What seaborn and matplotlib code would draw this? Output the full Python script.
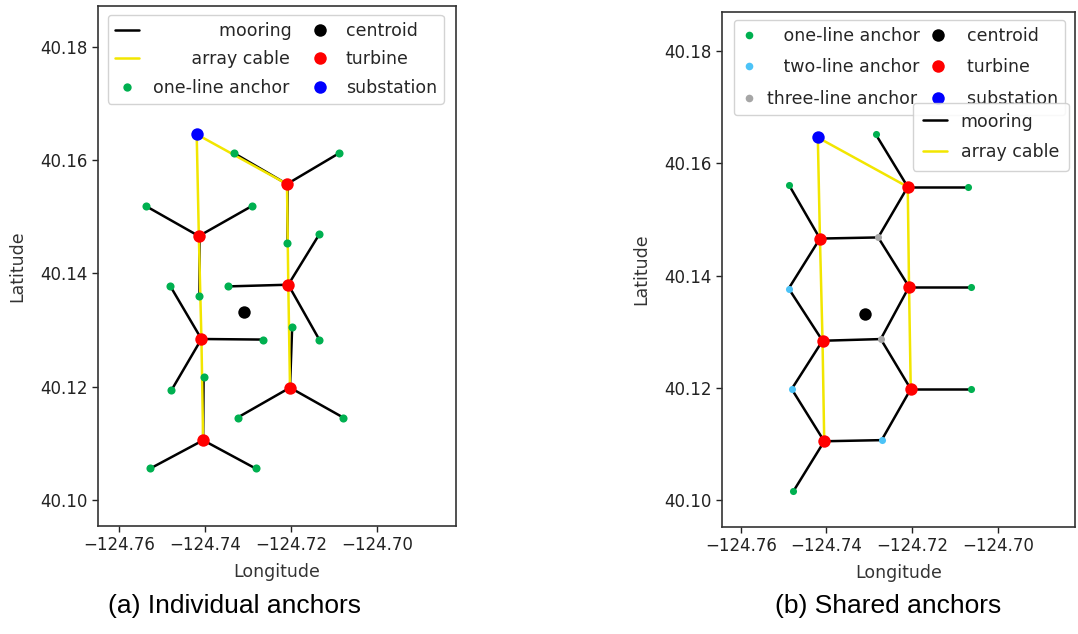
import numpy as np
import pandas as pd
import matplotlib
matplotlib.use("Agg")
import matplotlib.pyplot as plt
import seaborn as sns
from matplotlib.lines import Line2D

sns.set_style("ticks")
plt.rcParams['font.family'] = ['DejaVu Sans']

# ---------------- data ----------------
turbine_lon = [-124.7210, -124.7415, -124.7207, -124.7409, -124.7203, -124.7405]
turbine_lat = [40.1558, 40.1466, 40.1380, 40.1284, 40.1198, 40.1105]
substation_lon = [-124.7420]
substation_lat = [40.1646]
centroid_lon = [-124.7310]
centroid_lat = [40.1332]

# array cable routes (indices into turbines, -1 = substation)
cable_routes = [[-1, 1, 3, 5], [-1, 0, 2, 4]]

# (a) individual anchors: 3 per turbine
ind_anchor_lon = [-124.7334, -124.7088, -124.7210,
                  -124.7538, -124.7292, -124.7415,
                  -124.7348, -124.7135, -124.7135,
                  -124.7481, -124.7266, -124.7479,
                  -124.7198, -124.7325, -124.7079,
                  -124.7404, -124.7528, -124.7283]
ind_anchor_lat = [40.1613, 40.1613, 40.1453,
                  40.1519, 40.1519, 40.1360,
                  40.1377, 40.1469, 40.1283,
                  40.1377, 40.1283, 40.1193,
                  40.1305, 40.1145, 40.1145,
                  40.1216, 40.1055, 40.1055]
ind_anchor_turbine = [0, 0, 0, 1, 1, 1, 2, 2, 2, 3, 3, 3, 4, 4, 4, 5, 5, 5]

# (b) shared anchors
sh_anchor_lon = [-124.7285, -124.7487, -124.7069, -124.7062, -124.7062, -124.7477,
                 -124.7488, -124.7481, -124.7271,
                 -124.7279, -124.7273]
sh_anchor_lat = [40.1652, 40.1561, 40.1558, 40.1380, 40.1198, 40.1016,
                 40.1377, 40.1198, 40.1107,
                 40.1468, 40.1287]
sh_anchor_type = ["one-line"] * 6 + ["two-line"] * 3 + ["three-line"] * 2
# moorings: (turbine, anchor)
sh_moorings = [(0, 0), (0, 2), (0, 9),
               (1, 1), (1, 9), (1, 6),
               (2, 9), (2, 3), (2, 10),
               (3, 6), (3, 10), (3, 7),
               (4, 10), (4, 4), (4, 8),
               (5, 7), (5, 8), (5, 5)]

x_ticks = [-124.76, -124.74, -124.72, -124.70]
y_ticks = [40.10, 40.12, 40.14, 40.16, 40.18]

GREEN = "#00b050"
CYAN = "#4cc3f7"
GRAY = "#a6a6a6"
YELLOW = "#f2e600"

W, H = 1078, 634
fig = plt.figure(figsize=(W / 100, H / 100), dpi=100)


def axes_px(l, t, r, b):
    return fig.add_axes([l / W, 1 - b / H, (r - l) / W, (b - t) / H])


ax1 = axes_px(98, 6, 456, 526)
ax2 = axes_px(722, 12, 1075, 527)


def seg_frame(pairs):
    rows = []
    for k, ((x0, y0), (x1, y1)) in enumerate(pairs):
        rows.append((k, x0, y0))
        rows.append((k, x1, y1))
    return pd.DataFrame(rows, columns=["seg", "lon", "lat"])


def node(i):
    if i < 0:
        return substation_lon[0], substation_lat[0]
    return turbine_lon[i], turbine_lat[i]


cable_pairs = []
for route in cable_routes:
    for a, b in zip(route[:-1], route[1:]):
        cable_pairs.append((node(a), node(b)))
cable_df = seg_frame(cable_pairs)

ind_pairs = [(node(t), (ind_anchor_lon[k], ind_anchor_lat[k]))
             for k, t in enumerate(ind_anchor_turbine)]
ind_df = seg_frame(ind_pairs)

sh_pairs = [(node(t), (sh_anchor_lon[a], sh_anchor_lat[a])) for t, a in sh_moorings]
sh_df = seg_frame(sh_pairs)

TURB_S = 80
ANCH_S1 = 34
ANCH_S2 = 26
LW = 1.8


def draw_lines(ax, moor_df):
    sns.lineplot(data=moor_df, x="lon", y="lat", units="seg", estimator=None, sort=False,
                 color="black", linewidth=LW, ax=ax, legend=False)
    sns.lineplot(data=cable_df, x="lon", y="lat", units="seg", estimator=None, sort=False,
                 color=YELLOW, linewidth=LW, ax=ax, legend=False)


def draw_points(ax):
    sns.scatterplot(x=centroid_lon, y=centroid_lat, color="black", s=TURB_S, linewidth=0, ax=ax, zorder=5)
    sns.scatterplot(x=turbine_lon, y=turbine_lat, color="red", s=TURB_S, linewidth=0, ax=ax, zorder=5)
    sns.scatterplot(x=substation_lon, y=substation_lat, color="blue", s=TURB_S, linewidth=0, ax=ax, zorder=5)


# ---- panel (a) ----
draw_lines(ax1, ind_df)
sns.scatterplot(x=ind_anchor_lon, y=ind_anchor_lat, color=GREEN, s=ANCH_S1, linewidth=0, ax=ax1, zorder=4)
draw_points(ax1)

# ---- panel (b) ----
draw_lines(ax2, sh_df)
sh_colors = {"one-line": GREEN, "two-line": CYAN, "three-line": GRAY}
for typ, col in sh_colors.items():
    xs = [x for x, t in zip(sh_anchor_lon, sh_anchor_type) if t == typ]
    ys = [y for y, t in zip(sh_anchor_lat, sh_anchor_type) if t == typ]
    sns.scatterplot(x=xs, y=ys, color=col, s=ANCH_S2, linewidth=0, ax=ax2, zorder=4)
draw_points(ax2)

ax1.set_xlim(-124.76495, -124.68170)
ax1.set_ylim(40.09533, 40.18729)
ax2.set_xlim(-124.76437, -124.68195)
ax2.set_ylim(40.09523, 40.18695)

for ax in (ax1, ax2):
    ax.set_xticks(x_ticks)
    ax.set_yticks(y_ticks)
    ax.set_xticklabels([f"{v:.2f}".replace("-", "\u2212") for v in x_ticks])
    ax.set_yticklabels([f"{v:.2f}" for v in y_ticks])
    ax.tick_params(labelsize=12, length=4, width=1, colors="#222222")
    ax.set_xlabel("Longitude", fontsize=12.5, color="#333333", labelpad=6)
    ax.set_ylabel("Latitude", fontsize=12.5, color="#333333", labelpad=10)
    for sp in ax.spines.values():
        sp.set_color("#333333")
        sp.set_linewidth(1.2)


# ---- legends ----
def mk(color, size):
    return Line2D([], [], ls="none", marker="o", color=color, markersize=size, markeredgewidth=0)


def ln(color):
    return Line2D([], [], color=color, lw=LW)


leg_kw = dict(loc="upper left", borderaxespad=0, fontsize=12.5, handlelength=1.4,
              handletextpad=0.8, columnspacing=1.0, labelspacing=0.6, framealpha=0.85,
              edgecolor="#cccccc", bbox_transform=fig.transFigure)

h_a = [ln("black"), ln(YELLOW), mk(GREEN, 6), mk("black", 9), mk("red", 9), mk("blue", 9)]
l_a = ["            mooring", "       array cable", "one-line anchor", "centroid", "turbine", "substation"]
leg_a = ax1.legend(h_a, l_a, ncol=2, bbox_to_anchor=(108 / W, 1 - 15 / H),
                   **{**leg_kw, "columnspacing": 0.9})

h_b1 = [mk(GREEN, 5.5), mk(CYAN, 5.5), mk(GRAY, 5.5), mk("black", 9), mk("red", 9), mk("blue", 9)]
l_b1 = ["   one-line anchor", "   two-line anchor", "three-line anchor", "  centroid", "  turbine", "  substation"]
leg_b1 = ax2.legend(h_b1, l_b1, ncol=2, bbox_to_anchor=(734 / W, 1 - 20 / H),
                    **{**leg_kw, "labelspacing": 0.78, "handlelength": 0.9,
                       "handletextpad": 0.6, "columnspacing": 0.6})
ax2.add_artist(leg_b1)
h_b2 = [ln("black"), ln(YELLOW)]
l_b2 = ["mooring", "array cable"]
leg_b2 = ax2.legend(h_b2, l_b2, ncol=1, bbox_to_anchor=(913 / W, 1 - 103 / H),
                    **{**leg_kw, "labelspacing": 0.72, "borderpad": 0.55})
leg_b2.set_zorder(10)

# ---- captions ----
fig.text(235 / W, 1 - 606 / H, "(a) Individual anchors", ha="center", va="center",
         fontsize=19, family="Liberation Sans", color="black")
fig.text(888 / W, 1 - 606 / H, "(b) Shared anchors", ha="center", va="center",
         fontsize=19, family="Liberation Sans", color="black")

fig.savefig("out.png", dpi=100)
